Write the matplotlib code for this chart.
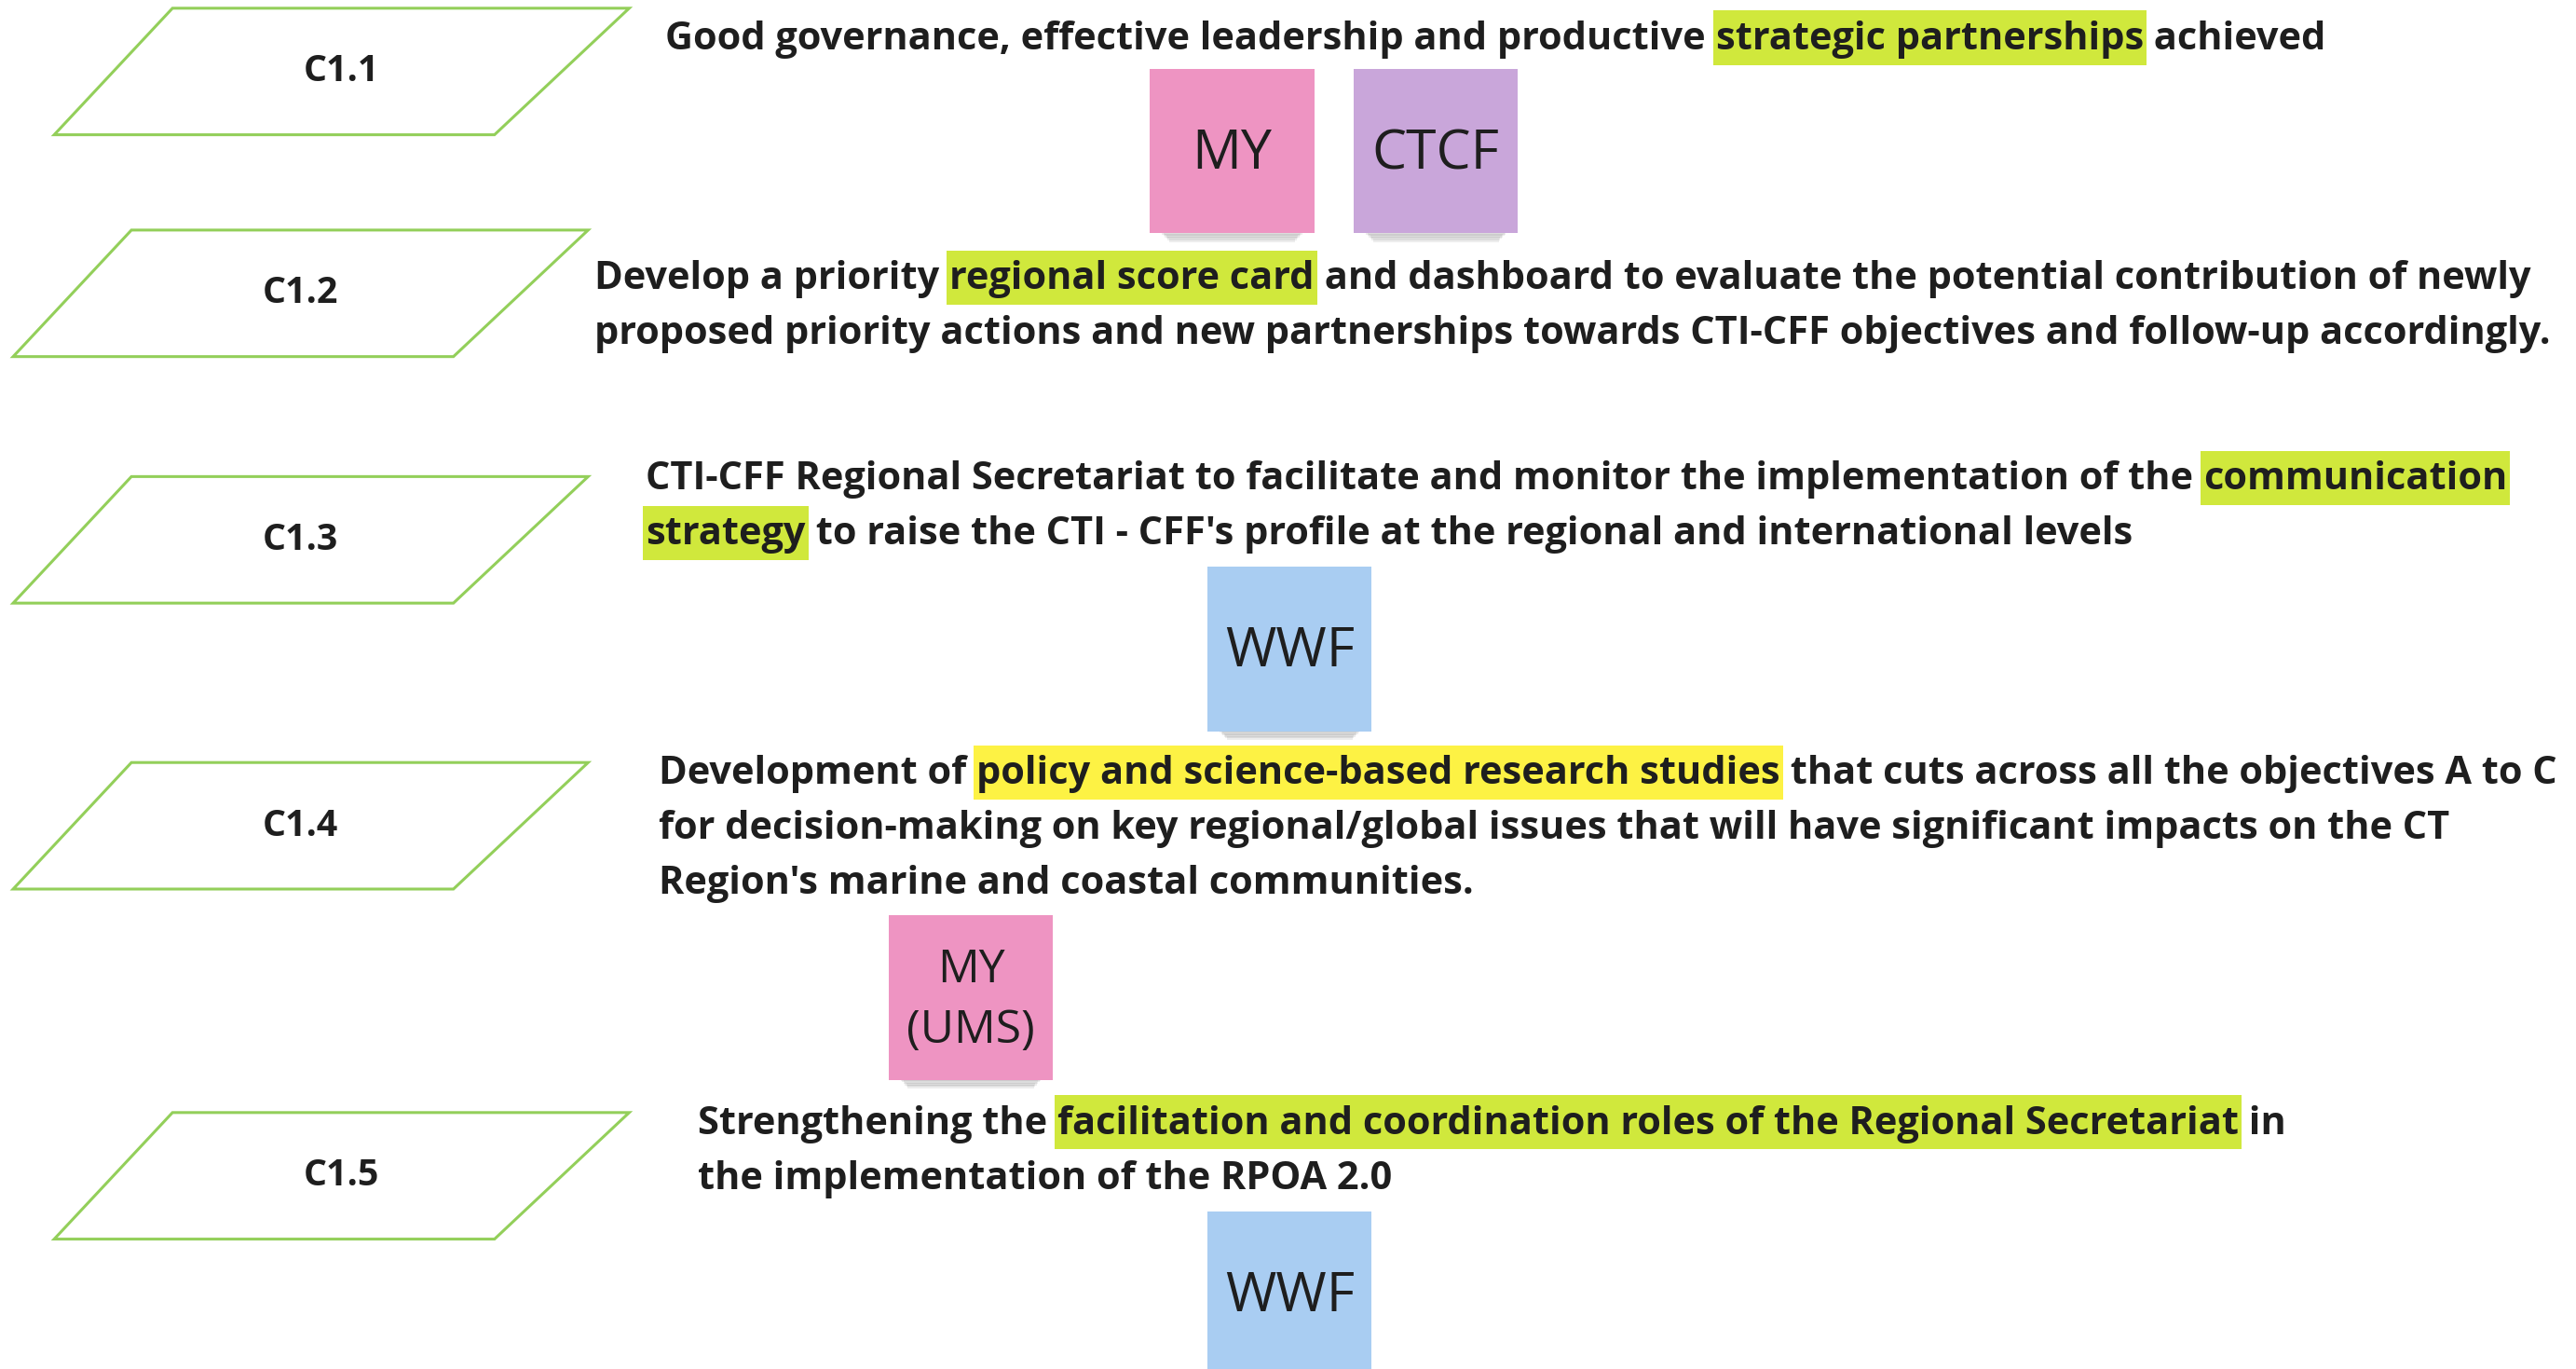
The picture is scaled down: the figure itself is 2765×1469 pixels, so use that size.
import re
import matplotlib
matplotlib.use("Agg")
import matplotlib.pyplot as plt
from matplotlib.patches import Polygon, Rectangle

# ---- content -------------------------------------------------------------
codes = ["C1.1", "C1.2", "C1.3", "C1.4", "C1.5"]

# [..] = green highlight, {..} = yellow highlight
statements = [
    ["Good governance, effective leadership and productive [strategic partnerships] achieved"],
    ["Develop a priority [regional score card] and dashboard to evaluate the potential contribution of newly",
     "proposed priority actions and new partnerships towards CTI-CFF objectives and follow-up accordingly."],
    ["CTI-CFF Regional Secretariat to facilitate and monitor the implementation of the [communication]",
     "[strategy] to raise the CTI - CFF's profile at the regional and international levels"],
    ["Development of {policy and science-based research studies} that cuts across all the objectives A to C",
     "for decision-making on key regional/global issues that will have significant impacts on the CT",
     "Region's marine and coastal communities."],
    ["Strengthening the [facilitation and coordination roles of the Regional Secretariat] in",
     "the implementation of the RPOA 2.0"],
]

partners = [["MY", "CTCF"], [], ["WWF"], ["MY\n(UMS)"], ["WWF"]]

# ---- layout (in px of the 1568-wide preview, scaled below) ---------------
W, H = 2765, 1469
S = W / 1568.0

box_top = [5, 140, 290, 464, 677]
box_left = [33, 8, 8, 8, 33]
box_bottom_w, box_top_w, box_h, box_slant = 268, 278, 77, 72
text_x = [405, 362, 393, 401, 425]
text_y = [24, 170, 292, 471, 684]
line_gap = 33.5
note_xy = [[(700, 42), (824, 42)], [], [(735, 345)], [(541, 557)], [(735, 737)]]
note_size = 100

note_colors = {"MY": "#ee94c2", "CTCF": "#c9a6da", "WWF": "#a9cdf2", "MY\n(UMS)": "#ee94c2"}
HL = {"[": "#d0e83c", "{": "#fdf244"}
OUTLINE = "#93cf5a"
INK = "#1e1e1e"
FONT = "Open Sans"

fig = plt.figure(figsize=(W / 100, H / 100), dpi=100)
ax = fig.add_axes([0, 0, 1, 1])
ax.set_xlim(0, W)
ax.set_ylim(H, 0)
ax.axis("off")
renderer = fig.canvas.get_renderer()

# fit the statement font so the long line spans like the reference
probe = ax.text(0, 0, "Develop a priority regional score card and dashboard to evaluate the potential contribution of newly",
                fontsize=20, fontfamily=FONT, fontweight="bold")
fs = 20 * (1539 - 362) * S / probe.get_window_extent(renderer).width
probe.remove()

for i, code in enumerate(codes):
    # parallelogram
    x0, yb, yt = box_left[i] * S, (box_top[i] + box_h) * S, box_top[i] * S
    pts = [(x0, yb), (x0 + box_bottom_w * S, yb),
           (x0 + (box_slant + box_top_w) * S, yt), (x0 + box_slant * S, yt)]
    ax.add_patch(Polygon(pts, closed=True, fill=False, edgecolor=OUTLINE, lw=2.2))
    ax.text(x0 + (box_slant + box_top_w) / 2 * S, (box_top[i] + box_h / 2) * S, code,
            ha="center", va="center", fontsize=fs * 0.95, fontfamily=FONT,
            fontweight="bold", color=INK)

    # statement lines, drawn piece by piece so highlights sit under their words
    for k, line in enumerate(statements[i]):
        y = (text_y[i] + k * line_gap) * S
        x = text_x[i] * S
        for piece in re.split(r"(\[[^\]]*\]|\{[^}]*\})", line):
            if not piece:
                continue
            color = HL.get(piece[0])
            txt = piece[1:-1] if color else piece
            t = ax.text(x, y, txt, ha="left", va="center", fontsize=fs,
                        fontfamily=FONT, fontweight="bold", color=INK, zorder=3)
            w = t.get_window_extent(renderer).width
            if color:
                ax.add_patch(Rectangle((x - 3, y - 17.5 * S), w + 6, 33 * S,
                                       facecolor=color, edgecolor="none", zorder=2))
            x += w

    # sticky notes with a soft shadow under the bottom edge
    for name, (nx, ny) in zip(partners[i], note_xy[i]):
        nx, ny, ns = nx * S, ny * S, note_size * S
        for j in range(8):
            ax.add_patch(Rectangle((nx + 10 + 1.5 * j, ny + ns - 6 + j * 1.6), ns - 20 - 3 * j, 4,
                                   facecolor="#3a3a3a", alpha=0.09, edgecolor="none", zorder=4))
        ax.add_patch(Rectangle((nx, ny), ns, ns, facecolor=note_colors[name],
                               edgecolor="none", zorder=5))
        ax.text(nx + ns / 2, ny + ns / 2 + 2 * S, name, ha="center", va="center",
                fontsize=fs * 1.42 if "\n" not in name else fs * 1.2,
                linespacing=1.4, fontfamily=FONT, fontweight="normal", color=INK, zorder=6)

fig.savefig("out.png", dpi=100, facecolor="white")
